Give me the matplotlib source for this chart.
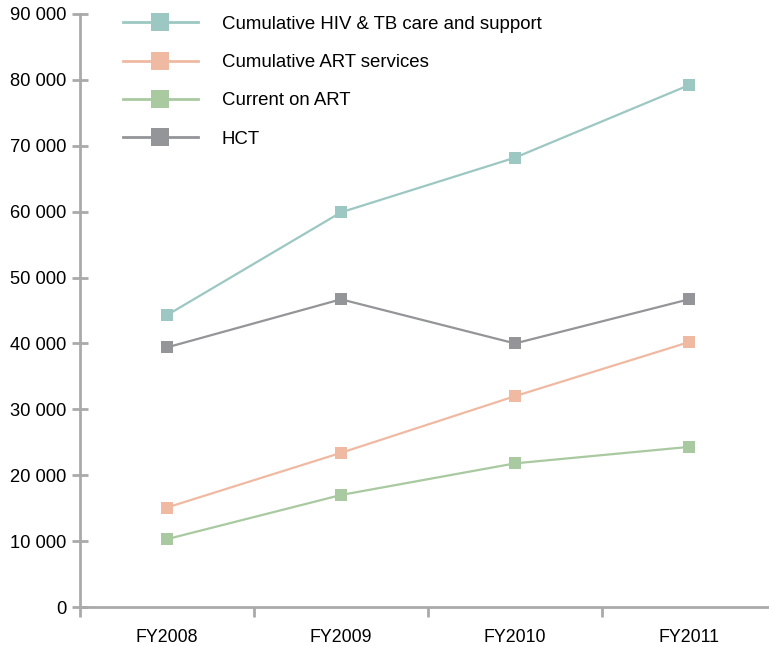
import matplotlib
matplotlib.use("Agg")
import matplotlib.pyplot as plt
from matplotlib.ticker import FuncFormatter

plt.rcParams['font.family'] = ['Liberation Sans', 'DejaVu Sans']

categories = ["FY2008", "FY2009", "FY2010", "FY2011"]
cum_hiv_tb = [44300, 59900, 68200, 79200]
cum_art = [15100, 23400, 32000, 40200]
current_art = [10300, 17000, 21800, 24300]
hct = [39400, 46700, 40000, 46700]

series = [
    ("Cumulative HIV & TB care and support", cum_hiv_tb, "#9cc7c2"),
    ("Cumulative ART services", cum_art, "#f0b9a2"),
    ("Current on ART", current_art, "#a9c9a0"),
    ("HCT", hct, "#949599"),
]

fig = plt.figure(figsize=(7.69, 6.47), dpi=100)
ax = fig.add_axes([80/769, 40/647, 696/769, 593/647])

x = list(range(len(categories)))
for label, vals, color in series:
    ax.plot(x, vals, color=color, lw=1.6, marker='s', markersize=8,
            markeredgewidth=0, label=label)

ax.set_xlim(-0.5, 3.5)
ax.set_ylim(0, 90000)
ax.set_yticks(range(0, 90001, 10000))
ax.yaxis.set_major_formatter(FuncFormatter(lambda v, p: f"{int(v):,}".replace(",", " ")))
ax.set_xticks(x)
ax.set_xticklabels(categories)
ax.set_xticks([-0.5, 0.5, 1.5, 2.5, 3.5], minor=True)

for s in ['top', 'right']:
    ax.spines[s].set_visible(False)
for s in ['left', 'bottom']:
    ax.spines[s].set_color('#aaaaab')
    ax.spines[s].set_linewidth(2)

ax.tick_params(axis='y', direction='inout', length=12, width=2, color='#aaaaab',
               labelsize=13.2, pad=4)
ax.tick_params(axis='x', which='major', length=0, labelsize=12.8, pad=16)
ax.tick_params(axis='x', which='minor', direction='out', length=7, width=2, color='#aaaaab')

leg = ax.legend(loc='upper left', bbox_to_anchor=(0.062, 0.997), frameon=False,
                fontsize=13.4, handlelength=4.0, handletextpad=1.3,
                labelspacing=1.14, borderpad=0, markerscale=1.6, borderaxespad=0)
for h in leg.get_lines():
    h.set_linewidth(2.0)

fig.savefig("out.png", dpi=100)
